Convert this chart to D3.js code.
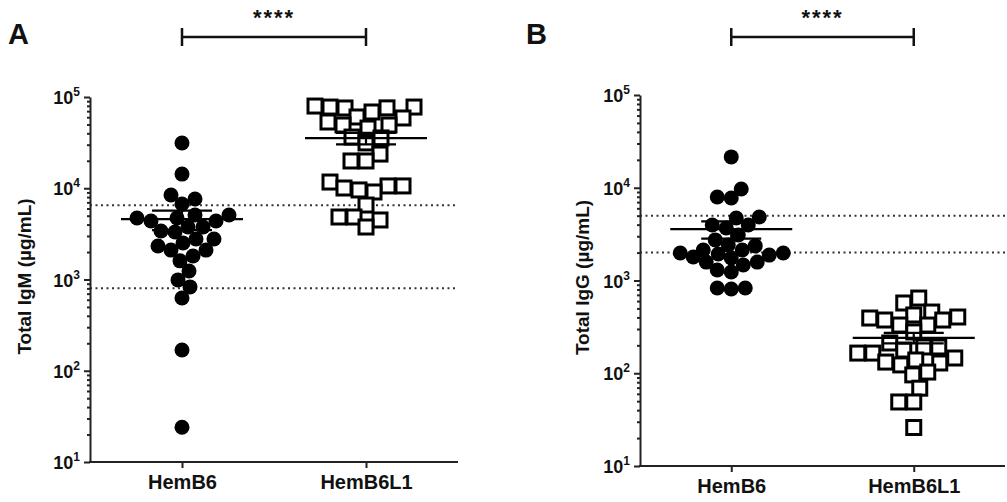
<!doctype html>
<html>
<head>
<meta charset="utf-8">
<title>Total IgM / IgG</title>
<script src="https://cdn.jsdelivr.net/npm/d3@7"></script>
<style>
  body { margin: 0; background: #fff; }
  text { font-family: "Liberation Sans", Arial, sans-serif; font-weight: bold; fill: #111; }
</style>
</head>
<body>
<script>
// data
var groups = ["HemB6", "HemB6L1"];
var igmHemB6 = [31300, 14300, 8430, 7620, 6720, 5090, 5090, 4720, 4720, 4380, 4380, 3760, 3760, 3400, 3320,
                2780, 2780, 2510, 2330, 2100, 2100, 1810, 1600, 1240, 990, 830, 627, 169, 24];
var igmHemB6L1 = [79600, 77600, 75800, 77600, 76000, 68500, 60400, 58900, 53200, 49300, 49300, 45700, 36400, 35600,
                  31400, 23700, 19900, 19900, 11700, 10600, 10600, 10060, 9580, 9100, 6550, 4840, 4840, 4490, 3760];
var iggHemB6 = [21500, 9700, 7940, 7740, 4840, 4720, 3960, 3960, 3680, 3100, 2740, 2420, 2360, 2130, 2130,
                1980, 1980, 1930, 1880, 1790, 1750, 1580, 1580, 1470, 1300, 1235, 830, 830, 810];
var iggHemB6L1 = [647, 572, 457, 425, 404, 394, 375, 375, 331, 331, 279, 212, 192, 192, 178, 165, 165,
                  146, 139, 132, 129, 123, 103, 96, 69, 49, 49, 26];
var igmRefRange = [800, 6500];
var iggRefRange = [2000, 5000];
var yExponents = [1, 2, 3, 4, 5];
var signif = "****";

var panels = [
    { letter: "A", title: "Total IgM (\u00b5g/mL)", series: [igmHemB6, igmHemB6L1], ref: igmRefRange,
      left: 90, right: 458, top: 97, bottom: 462, letterX: 8, titleX: 31 },
    { letter: "B", title: "Total IgG (\u00b5g/mL)", series: [iggHemB6, iggHemB6L1], ref: iggRefRange,
      left: 640, right: 1005, top: 95, bottom: 466, letterX: 526, titleX: 589 }
];

var svg = d3.select("body").append("svg").attr("width", 1007).attr("height", 502);

// place points side by side so they don't pile up (greedy, bottom up)
function swarm(vals, y, minDist, maxHW) {
    var pts = vals.map(function (v) { return { v: v, y: y(v), dx: 0 }; });
    var order = pts.slice().sort(function (a, b) { return a.v - b.v; });
    var placed = [];
    order.forEach(function (p, i) {
        var found = null, fallback = 0, bestScore = -1;
        outer:
        for (var k = 0; k <= maxHW; k++) {
            var cands = k === 0 ? [0] : (i % 2 ? [k, -k] : [-k, k]);
            for (var c = 0; c < cands.length; c++) {
                var s = cands[c], md = Infinity;
                placed.forEach(function (q) { md = Math.min(md, Math.hypot(q.dx - s, q.y - p.y)); });
                if (md >= minDist) { found = s; break outer; }
                if (md > bestScore) { bestScore = md; fallback = s; }
            }
        }
        p.dx = found === null ? fallback : found;
        placed.push(p);
    });
    return pts;
}

panels.forEach(function (P) {
    var g = svg.append("g");
    var y = d3.scaleLog().domain([10, 1e5]).range([P.bottom, P.top]);
    var x = d3.scalePoint().domain(groups).range([P.left, P.right]).padding(0.5);

    var majors = yExponents.map(function (e) { return Math.pow(10, e); });
    var minors = [];
    yExponents.slice(0, -1).forEach(function (e) {
        for (var m = 2; m <= 9; m++) minors.push(m * Math.pow(10, e));
    });

    // reference range lines
    g.selectAll("line.ref").data(P.ref).enter().append("line")
        .attr("x1", P.left).attr("x2", P.right)
        .attr("y1", function (d) { return y(d); }).attr("y2", function (d) { return y(d); })
        .attr("stroke", "#333").attr("stroke-width", 2).attr("stroke-dasharray", "2,3.5");

    // axes
    var yMinor = g.append("g").attr("transform", "translate(" + P.left + ",0)")
        .call(d3.axisLeft(y).tickValues(minors).tickSize(3).tickSizeOuter(0).tickFormat(""));
    var yMajor = g.append("g").attr("transform", "translate(" + P.left + ",0)")
        .call(d3.axisLeft(y).tickValues(majors).tickSize(6).tickSizeOuter(0).tickFormat(""));
    var xAx = g.append("g").attr("transform", "translate(0," + P.bottom + ")")
        .call(d3.axisBottom(x).tickSize(6).tickSizeOuter(0));
    [yMinor, yMajor, xAx].forEach(function (a) {
        a.selectAll("path, line").attr("stroke", "#222").attr("stroke-width", 2);
    });
    yMinor.select(".domain").remove();
    xAx.select(".domain").attr("d", "M" + (P.left - 1) + ",0H" + P.right);
    xAx.selectAll("text").attr("y", 13).attr("dy", "0.71em")
        .style("font-size", "20px").style("font-family", "'Liberation Sans', Arial, sans-serif")
        .style("font-weight", "bold").attr("fill", "#111");

    // y tick labels 10^n
    var lab = g.selectAll("text.ylab").data(yExponents).enter().append("text")
        .attr("class", "ylab").attr("text-anchor", "end")
        .attr("x", P.left - 10).attr("y", function (e) { return y(Math.pow(10, e)) + 7; })
        .style("font-size", "18px");
    lab.append("tspan").text("10");
    lab.append("tspan").attr("dy", -8).style("font-size", "12px").text(function (e) { return e; });

    // y title
    g.append("text").attr("transform", "translate(" + P.titleX + "," + ((P.top + P.bottom) / 2 - 3) + ") rotate(-90)")
        .attr("text-anchor", "middle").style("font-size", "19px").text(P.title);

    // panel letter
    g.append("text").attr("x", P.letterX).attr("y", 44).style("font-size", "29px").text(P.letter);

    // significance bracket
    var bx0 = x(groups[0]), bx1 = x(groups[1]);
    g.append("path").attr("d", "M" + bx0 + ",37H" + bx1 + "M" + bx0 + ",28V46M" + bx1 + ",28V46")
        .attr("stroke", "#111").attr("stroke-width", 2.5).attr("fill", "none");
    g.append("text").attr("x", (bx0 + bx1) / 2).attr("y", 25).attr("text-anchor", "middle")
        .style("font-size", "22px").style("letter-spacing", "2px").text(signif);

    // points
    P.series.forEach(function (vals, gi) {
        var cx = x(groups[gi]);
        if (gi === 0) {
            var pts = swarm(vals, y, 13.5, 54);
            g.append("g").selectAll("circle").data(pts).enter().append("circle")
                .attr("cx", function (d) { return cx + d.dx; }).attr("cy", function (d) { return d.y; })
                .attr("r", 7.5).attr("fill", "#000");
        } else {
            var pts2 = swarm(vals, y, 15, 56);
            g.append("g").selectAll("rect").data(pts2).enter().append("rect")
                .attr("x", function (d) { return cx + d.dx - 7; }).attr("y", function (d) { return d.y - 7; })
                .attr("width", 14).attr("height", 14)
                .attr("fill", "#fff").attr("stroke", "#000").attr("stroke-width", 3);
        }

        // mean +/- SEM
        var mean = d3.mean(vals), sem = d3.deviation(vals) / Math.sqrt(vals.length);
        var ym = y(mean), yu = y(mean + sem), yl = y(mean - sem);
        g.append("path")
            .attr("d", "M" + (cx - 61) + "," + ym + "H" + (cx + 61) +
                "M" + (cx - 30) + "," + yu + "H" + (cx + 30) +
                "M" + (cx - 30) + "," + yl + "H" + (cx + 30) +
                "M" + cx + "," + yu + "V" + yl)
            .attr("stroke", "#000").attr("stroke-width", 2.2).attr("fill", "none");
    });
});
</script>
</body>
</html>
